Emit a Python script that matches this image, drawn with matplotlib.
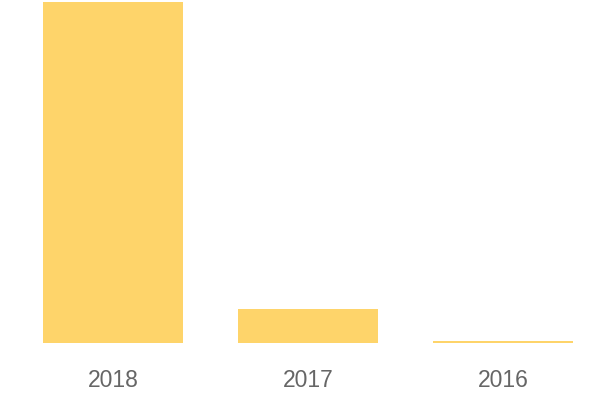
import numpy as np
import matplotlib.pyplot as plt

years = ['2018', '2017', '2016']
values = [100, 10, 0.5]

fig = plt.figure(figsize=(6, 4), dpi=100)
ax = fig.add_axes([15.5 / 600, 57 / 400, 585 / 600, 341 / 400])

x = np.arange(len(years))
ax.bar(x, values, width=0.718, color='#fed46a')
ax.set_xlim(-0.5, 2.5)
ax.set_ylim(0, max(values))

ax.set_xticks(x)
ax.set_xticklabels(years, fontsize=16.5, color='#666666', family='Liberation Sans')
ax.tick_params(axis='x', length=0, pad=18.5)
ax.set_yticks([])
for s in ax.spines.values():
    s.set_visible(False)

fig.savefig('out.png', dpi=100)
